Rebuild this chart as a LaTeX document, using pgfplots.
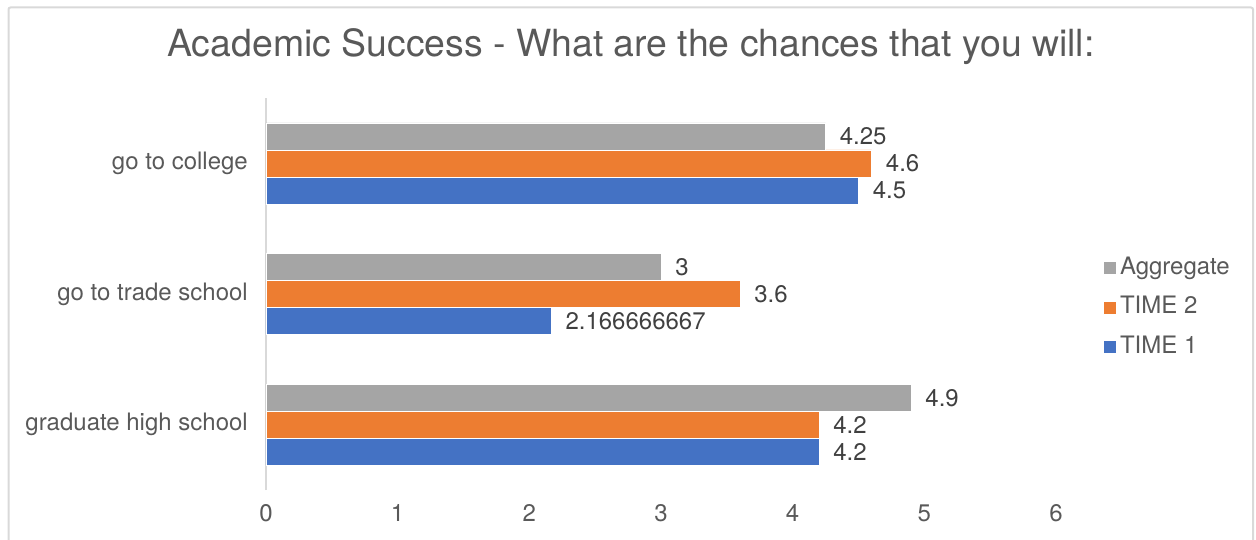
\documentclass[border=0pt]{standalone}
\usepackage{fontspec}
\setmainfont{TeX Gyre Heros}
\usepackage{pgfplots}
\pgfplotsset{compat=1.18}
\definecolor{tone}{HTML}{4472C4}
\definecolor{ttwo}{HTML}{ED7D31}
\definecolor{tagg}{HTML}{A5A5A5}
\definecolor{framegray}{HTML}{D9D9D9}
\definecolor{labelgray}{HTML}{595959}
\definecolor{datagray}{HTML}{404040}
\begin{document}
\begin{tikzpicture}[x=1pt,y=1pt]
\useasboundingbox (0,0) rectangle (1256,539);
\draw[color=framegray, line width=2pt, rounded corners=2pt] (8.5,-20) rectangle (1253,531.5);
\node[text=labelgray, font=\fontsize{37.4}{42}\selectfont, anchor=base] at (631,482) {Academic Success - What are the chances that you will:};
\begin{axis}[
  at={(266pt,49pt)}, anchor=south west, scale only axis,
  width=790pt, height=392pt,
  xbar, xmin=0, xmax=6, ymin=-0.5, ymax=2.5,
  bar width=0.2066,
  ytick={0,1,2},
  yticklabels={graduate high school, go to trade school, go to college},
  xtick={0,1,2,3,4,5,6},
  /pgf/number format/assume math mode=true,
  major tick length=0pt,
  axis lines*=left,
  x axis line style={draw=none},
  y axis line style={draw=framegray, line width=1.5pt, -},
  tick label style={text=labelgray, font=\fontsize{24}{28}\selectfont},
  yticklabel style={inner sep=0pt, xshift=-18pt},
  xticklabel style={inner sep=0pt, yshift=-14.5pt},
  point meta=explicit symbolic,
  nodes near coords,
  nodes near coords style={anchor=west, inner sep=0pt, xshift=14pt, text=datagray, font=\fontsize{24}{28}\selectfont},
  legend image code/.code={\path[#1,draw=none] (0pt,-6pt) rectangle (12pt,6pt);},
  reverse legend,
  legend cell align=left,
  legend style={draw=none, fill=none, inner sep=0pt, row sep=19.5pt, column sep=4pt,
    at={(1.0605,0.465)}, anchor=west,
    font=\fontsize{24}{28}\selectfont, text=labelgray,
    nodes={inner sep=0pt, text height=16pt, text depth=4pt}},
]
\addplot[fill=tone, draw=white, line width=0.5pt, bar shift=-0.2066] coordinates {(4.2,0)[4.2] (2.166666667,1)[2.166666667] (4.5,2)[4.5]};
\addlegendentry{TIME 1}
\addplot[fill=ttwo, draw=white, line width=0.5pt, bar shift=0] coordinates {(4.2,0)[4.2] (3.6,1)[3.6] (4.6,2)[4.6]};
\addlegendentry{TIME 2}
\addplot[fill=tagg, draw=white, line width=0.5pt, bar shift=0.2066] coordinates {(4.9,0)[4.9] (3,1)[3] (4.25,2)[4.25]};
\addlegendentry{Aggregate}
\end{axis}
\end{tikzpicture}
\end{document}
